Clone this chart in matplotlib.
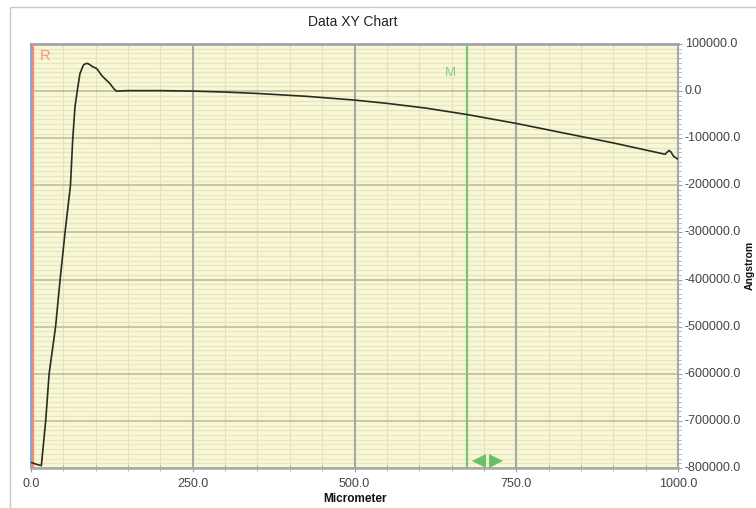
import numpy as np
import matplotlib
matplotlib.use('Agg')
import matplotlib.pyplot as plt
from matplotlib.ticker import MultipleLocator, FormatStrFormatter
from matplotlib.patches import Rectangle

# ---- data ------------------------------------------------------------------
micrometer = [0, 8, 16, 22.7, 28, 32, 38, 45, 52.6, 61, 64.4, 68, 72,
              75.7, 80.9, 84, 87.4, 91, 95, 101.5, 110, 122, 128, 132,
              150, 200, 250, 300, 350, 425, 500, 550, 610, 673, 750, 820,
              900, 980, 983, 986, 989, 993, 998, 1000]
angstrom = [-788000, -792000, -795000, -700000, -600000, -560000, -500000,
            -400000, -300000, -200000, -104000, -33000, 5000,
            37500, 55000, 58000, 58800, 56000, 52000, 48000, 32000, 16000,
            5000, 0, 1000, 1000, 0, -2000, -5000, -11000, -19000, -26000,
            -36000, -49500, -68600, -88000, -110000, -134000, -130000,
            -126000, -129000, -138000, -143000, -144000]

X_RANGE = (0.0, 1000.0)
Y_RANGE = (-800000.0, 100000.0)
CURSOR_R = 3.0
CURSOR_M = 674.0

TITLE = 'Data XY Chart'
XLABEL = 'Micrometer'
YLABEL = 'Angstrom'

# ---- styling -----------------------------------------------------------------
plt.rcParams['font.family'] = ['Liberation Sans', 'DejaVu Sans']

BG = '#f8f8d6'
MINOR_H = '#e8e5bf'
MAJOR_H = '#bcb890'
MAJOR_V = '#a8a8ab'
MINOR_V = '#e2dfc3'
LINE = '#2b2b22'
RED = '#f08a7a'
GREEN = '#7cc47a'
TXT = '#444444'

fig = plt.figure(figsize=(7.56, 5.08), dpi=100)
ax = fig.add_axes([31 / 756, 1 - 468 / 508, 647 / 756, 424 / 508])
ax.set_facecolor(BG)

# outer frame of the chart control
fig.add_artist(Rectangle((10 / 756, -0.1), 1.2, 1 - 7 / 508 + 0.1,
                         transform=fig.transFigure, fill=False,
                         edgecolor='#c9c9bc', lw=1.0))

ax.set_xlim(*X_RANGE)
ax.set_ylim(*Y_RANGE)

ax.xaxis.set_major_locator(MultipleLocator(250))
ax.xaxis.set_minor_locator(MultipleLocator(50))
ax.yaxis.set_major_locator(MultipleLocator(100000))
ax.yaxis.set_minor_locator(MultipleLocator(10000))
ax.xaxis.set_major_formatter(FormatStrFormatter('%.1f'))
ax.yaxis.set_major_formatter(FormatStrFormatter('%.1f'))

ax.grid(which='minor', axis='y', color=MINOR_H, lw=0.9)
ax.grid(which='minor', axis='x', color=MINOR_V, lw=0.9)
ax.grid(which='major', axis='y', color=MAJOR_H, lw=1.1)
ax.set_axisbelow(True)
# solid major verticals on top of the fine horizontal rulings
for xv in ax.get_xticks():
    if X_RANGE[0] < xv < X_RANGE[1]:
        ax.axvline(xv, color=MAJOR_V, lw=1.5, zorder=1)

ax.yaxis.tick_right()
ax.tick_params(axis='y', which='both', right=True, left=False, direction='out',
               colors='#a0a0a0', labelcolor=TXT, labelsize=9, pad=2)
ax.tick_params(axis='y', which='major', length=3)
ax.tick_params(axis='y', which='minor', length=2)
ax.tick_params(axis='x', which='both', direction='inout', colors='#a0a0a0',
               labelcolor=TXT, labelsize=9, pad=4)
ax.tick_params(axis='x', which='major', length=6)
ax.tick_params(axis='x', which='minor', length=4)
for lab in ax.get_yticklabels():
    lab.set_verticalalignment('center')

ax.spines['top'].set_color('#a2a2b0')
ax.spines['top'].set_linewidth(2.0)
ax.spines['left'].set_color('#8aa6d8')
ax.spines['left'].set_linewidth(1.5)
ax.spines['right'].set_color('#a8a8a8')
ax.spines['right'].set_linewidth(1.5)
ax.spines['bottom'].set_color('#a8a8a8')
ax.spines['bottom'].set_linewidth(1.8)

# cursors
ax.axvline(CURSOR_R, color=RED, lw=1.6, zorder=3)
ax.text(CURSOR_R + 10, 75000, 'R', color=RED, fontsize=10.5, va='center',
        ha='left', alpha=0.9)
ax.axvline(CURSOR_M, color=GREEN, lw=1.6, zorder=3)
ax.text(CURSOR_M - 25, 39000, 'M', color='#8ccc8a', fontsize=9.5,
        va='center', ha='center')
ax.plot([CURSOR_M + 19], [-786000], marker='<', ms=10.5, mew=0,
        color='#6cbf6a', zorder=4, clip_on=False)
ax.plot([CURSOR_M + 45], [-786000], marker='>', ms=10.5, mew=0,
        color='#6cbf6a', zorder=4, clip_on=False)

# the trace
ax.plot(micrometer, angstrom, color=LINE, lw=1.2, zorder=5)

fig.text(353 / 756, 1 - 22 / 508, TITLE, ha='center', va='center',
         fontsize=10, color='#222222')
fig.text(355 / 756, 1 - 499 / 508, XLABEL, ha='center', va='center',
         fontsize=8.5, fontweight='bold', color='#111111')
fig.text(750 / 756, 1 - 265 / 508, YLABEL, ha='center', va='center',
         rotation=90, fontsize=7.5, fontweight='bold', color='#111111')

fig.savefig('out.png', dpi=100)
